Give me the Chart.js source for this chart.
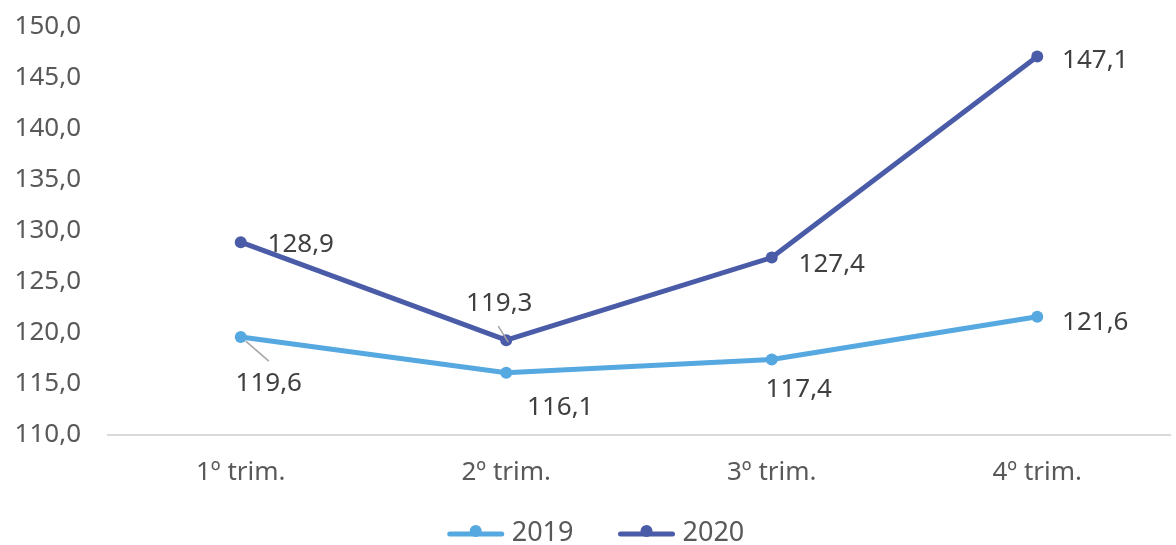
<!DOCTYPE html>
<html>
<head>
<meta charset="utf-8">
<script src="https://cdn.jsdelivr.net/npm/chart.js@4"></script>
<style>
  html, body { margin: 0; padding: 0; background: #fff; }
  #wrap { width: 1176px; height: 545px; position: relative; }
</style>
</head>
<body>
<div id="wrap"><canvas id="chart"></canvas></div>
<script>
// datos
var categories = ['1º trim.', '2º trim.', '3º trim.', '4º trim.'];
var values2019 = [119.6, 116.1, 117.4, 121.6];
var values2020 = [128.9, 119.3, 127.4, 147.1];
var seriesNames = ['2019', '2020'];

var color2019 = '#55a8e0';
var color2020 = '#4a5ba8';
var textColor = '#595959';
var fontFamily = 'Noto Sans';

// posicion de cada etiqueta respecto a su punto: [dx, dy, linea guia]
var labelOffsets = [
  [[28, 47, [5, 4, 28, 24]], [54, 35, null], [27, 30, null], [58, 6, null]],
  [[60, 2, null], [-7, -37, [-8, -14, 2, 2]], [60, 7, null], [58, 4, null]]
];

function fmt(v) {
  return v.toFixed(1).replace('.', ',');
}

// etiquetas de datos
var dataLabels = {
  id: 'dataLabels',
  afterDatasetsDraw: function (chart) {
    var ctx = chart.ctx;
    ctx.save();
    ctx.font = '26px "' + fontFamily + '"';
    ctx.fillStyle = '#404040';
    ctx.textAlign = 'center';
    ctx.textBaseline = 'middle';
    chart.data.datasets.forEach(function (ds, i) {
      var meta = chart.getDatasetMeta(i);
      meta.data.forEach(function (pt, j) {
        var off = labelOffsets[i][j];
        if (off[2]) {
          var l = off[2];
          ctx.strokeStyle = '#a6a6a6';
          ctx.lineWidth = 1.5;
          ctx.beginPath();
          ctx.moveTo(pt.x + l[0], pt.y + l[1]);
          ctx.lineTo(pt.x + l[2], pt.y + l[3]);
          ctx.stroke();
        }
        ctx.fillText(fmt(ds.data[j]), pt.x + off[0], pt.y + off[1]);
      });
    });
    ctx.restore();
  }
};

// leyenda estilo Excel (linea con marcador)
var lineLegend = {
  id: 'lineLegend',
  afterDraw: function (chart) {
    var ctx = chart.ctx;
    ctx.save();
    ctx.font = '27px "' + fontFamily + '"';
    ctx.textBaseline = 'middle';
    var lineW = 56, gap = 8, itemGap = 45;
    var items = chart.data.datasets.map(function (ds) {
      return { ds: ds, w: lineW + gap + ctx.measureText(ds.label).width };
    });
    var total = items.reduce(function (s, it) { return s + it.w; }, 0) + itemGap * (items.length - 1);
    var x = 596 - total / 2;
    var y = 533;
    items.forEach(function (it) {
      var c = it.ds.borderColor;
      ctx.strokeStyle = c;
      ctx.lineWidth = 5;
      ctx.lineCap = 'round';
      ctx.beginPath();
      ctx.moveTo(x + 2, y + 1);
      ctx.lineTo(x + lineW - 2, y + 1);
      ctx.stroke();
      ctx.fillStyle = c;
      ctx.beginPath();
      ctx.arc(x + lineW / 2, y - 2, 6, 0, Math.PI * 2);
      ctx.fill();
      ctx.fillStyle = textColor;
      ctx.textAlign = 'left';
      ctx.fillText(it.ds.label, x + lineW + gap, y);
      x += it.w + itemGap;
    });
    ctx.restore();
  }
};

var ctx = document.getElementById('chart').getContext('2d');
var chart = new Chart(ctx, {
  type: 'line',
  data: {
    labels: categories,
    datasets: [{
      label: seriesNames[0],
      data: values2019,
      borderColor: color2019,
      backgroundColor: color2019,
      borderWidth: 5,
      pointRadius: 6,
      pointBorderWidth: 0,
      pointHoverRadius: 6,
      tension: 0
    }, {
      label: seriesNames[1],
      data: values2020,
      borderColor: color2020,
      backgroundColor: color2020,
      borderWidth: 5,
      pointRadius: 6,
      pointBorderWidth: 0,
      pointHoverRadius: 6,
      tension: 0
    }]
  },
  options: {
    responsive: true,
    maintainAspectRatio: false,
    animation: false,
    layout: { padding: { left: 13, right: 0, top: 27, bottom: 56 } },
    plugins: {
      tooltip: { enabled: false },
      legend: { display: false }
    },
    scales: {
      x: {
        offset: true,
        grid: { display: false, drawTicks: false },
        border: { color: '#d9d9d9', width: 2 },
        ticks: {
          color: textColor,
          font: { family: fontFamily, size: 26 },
          padding: 22
        },
        afterFit: function (s) {
          s.paddingLeft = 0;
          s.paddingRight = 0;
          s.height = 54;
        }
      },
      y: {
        min: 110,
        max: 150,
        grid: { display: false, drawTicks: false },
        border: { display: false },
        ticks: {
          stepSize: 5,
          color: textColor,
          font: { family: fontFamily, size: 26 },
          padding: 27,
          callback: function (v) { return fmt(v); }
        },
        afterFit: function (s) {
          s.paddingTop = 0;
          s.paddingBottom = 0;
          s.width = 95;
        }
      }
    }
  },
  plugins: [dataLabels, lineLegend]
});
</script>
</body>
</html>
